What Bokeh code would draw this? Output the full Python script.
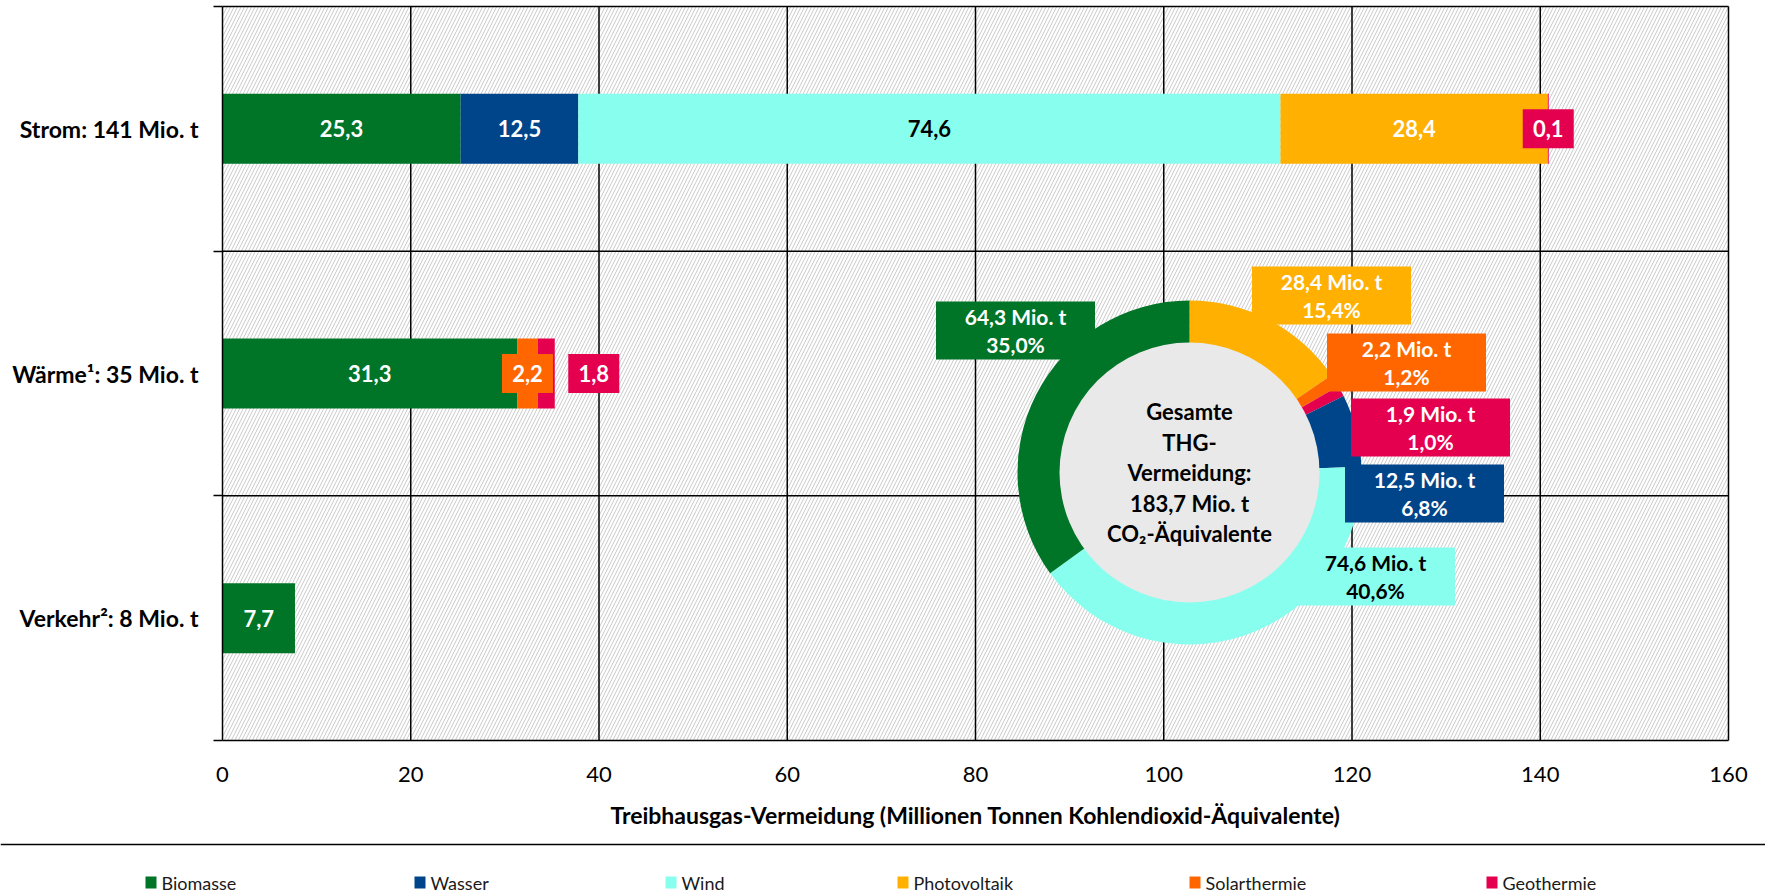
import math
from bokeh.plotting import figure
from bokeh.models import ColumnDataSource, Range1d, FixedTicker
from bokeh.embed import file_html
from bokeh.resources import INLINE
from bokeh.core.properties import value

# ---------------- data ----------------
sectors = ["Strom: 141 Mio. t", "Wärme¹: 35 Mio. t", "Verkehr²: 8 Mio. t"]
sources = ["Biomasse", "Wasser", "Wind", "Photovoltaik", "Solarthermie", "Geothermie"]
biomasse = [25.3, 31.3, 7.7]
wasser = [12.5, 0.0, 0.0]
wind = [74.6, 0.0, 0.0]
photovoltaik = [28.4, 0.0, 0.0]
solarthermie = [0.0, 2.2, 0.0]
geothermie = [0.1, 1.8, 0.0]

donut_order = ["Photovoltaik", "Solarthermie", "Geothermie", "Wasser", "Wind", "Biomasse"]
donut_values = [28.4, 2.2, 1.9, 12.5, 74.6, 64.3]
donut_percent = [15.4, 1.2, 1.0, 6.8, 40.6, 35.0]
center_lines = ["Gesamte", "THG-", "Vermeidung:", "183,7 Mio. t", "CO₂-Äquivalente"]

x_ticks = [0, 20, 40, 60, 80, 100, 120, 140, 160]
x_title = "Treibhausgas-Vermeidung (Millionen Tonnen Kohlendioxid-Äquivalente)"

# ---------------- styles / layout ----------------
colors = {"Biomasse": "#007427", "Wasser": "#004489", "Wind": "#88FFEE",
          "Photovoltaik": "#FFB000", "Solarthermie": "#FF6600", "Geothermie": "#E5004F"}
text_colors = {"Wind": "black"}
FONT = "Lato"
W, H = 1765, 892                       # canvas
PL, PR, PT, PB = 222, 1728, 6, 740     # plot area in canvas px
X_MAX = 160
N = len(sectors)
PX_X = X_MAX / (PR - PL)
PX_Y = N / (PB - PT)
BAR_H = 0.286
outside_labels = {(1, "Geothermie")}   # label placed right of the bar
donut_center_px = (1189, 472)
donut_label_offsets = {                # screen px from donut centre
    "Photovoltaik": (142, -177), "Solarthermie": (217, -110), "Geothermie": (241, -45),
    "Wasser": (235, 21), "Wind": (186, 104), "Biomasse": (-174, -142)}
legend_left_px = [145, 414, 665, 897, 1189, 1486]
legend_y_px = 882
separator_y_px = 844


def de(v):
    return f"{v:.1f}".replace(".", ",")


def dx_(px):
    return (px - PL) * PX_X


def dy_(py):
    return (PB - py) * PX_Y


series = dict(zip(sources, [biomasse, wasser, wind, photovoltaik, solarthermie, geothermie]))
slot = [N - 0.5 - i for i in range(N)]   # first sector on top

p = figure(width=W, height=H, x_range=Range1d(dx_(0), dx_(W)), y_range=Range1d(dy_(H), dy_(0)),
           min_border=0, output_backend="svg", toolbar_location=None,
           outline_line_color=None, background_fill_color="white", border_fill_color="white")
p.xgrid.visible = False
p.ygrid.visible = False

# hatched plot background
p.quad(left=[0], right=[X_MAX], bottom=[0], top=[N], fill_color="white", line_color=None,
       hatch_pattern="/", hatch_color="#c9c9c9", hatch_scale=7, hatch_weight=1.0)

# grid lines (vertical at ticks, horizontal at category boundaries)
vt = [t for t in x_ticks if t > 0]
p.segment(x0=vt, x1=vt, y0=[0] * len(vt), y1=[N] * len(vt), line_color="black", line_width=1.5)
hb = list(range(1, N + 1))
p.segment(x0=[0] * len(hb), x1=[X_MAX] * len(hb), y0=hb, y1=hb, line_color="black",
          line_width=1.5)

# x axis (fixed at y = 0)
xa = p.xaxis[0]
xa.fixed_location = 0
xa.bounds = (0, X_MAX)
xa.ticker = FixedTicker(ticks=x_ticks)
xa.major_tick_out = 0
xa.major_tick_in = 0
xa.minor_tick_line_color = None
xa.axis_line_color = "black"
xa.axis_line_width = 1.5
xa.major_label_text_font = FONT
xa.major_label_text_font_size = "22px"
xa.major_label_text_color = "black"
xa.major_label_standoff = 26
xa.axis_label = x_title
xa.axis_label_text_font = FONT
xa.axis_label_text_font_size = "23px"
xa.axis_label_text_font_style = "bold"
xa.axis_label_text_color = "black"
xa.axis_label_standoff = 16

# y axis (fixed at x = 0): labels at category centres, minor ticks at boundaries
ya = p.yaxis[0]
ya.fixed_location = 0
ya.bounds = (0, N)
ya.ticker = FixedTicker(ticks=slot, minor_ticks=list(range(0, N + 1)))
ya.major_label_overrides = {s: name for s, name in zip(slot, sectors)}
ya.major_tick_out = 0
ya.major_tick_in = 0
ya.minor_tick_out = 9
ya.minor_tick_in = 0
ya.minor_tick_line_color = "black"
ya.minor_tick_line_width = 1.5
ya.axis_line_color = "black"
ya.axis_line_width = 1.5
ya.major_label_standoff = 15
ya.major_label_text_font = FONT
ya.major_label_text_font_size = "23px"
ya.major_label_text_font_style = "bold"
ya.major_label_text_color = "black"

# stacked bars
src = ColumnDataSource(dict(slot=slot, **series))
p.hbar_stack(sources, y="slot", height=BAR_H, fill_color=[colors[s] for s in sources],
             line_color=None, source=src)

# value labels
in_x, in_y, in_t, in_c = [], [], [], []
bx_x, bx_y, bx_t, bx_f = [], [], [], []
for i in range(N):
    start = 0.0
    for s in sources:
        v = series[s][i]
        if v <= 0:
            continue
        mid, end = start + v / 2, start + v
        if v >= 5:
            in_x.append(mid); in_y.append(slot[i]); in_t.append(de(v))
            in_c.append(text_colors.get(s, "white"))
        else:
            x = end + 39 * PX_X if (i, s) in outside_labels else mid
            bx_x.append(x); bx_y.append(slot[i]); bx_t.append(de(v)); bx_f.append(colors[s])
        start = end

p.text(x=in_x, y=in_y, text=in_t, text_color=in_c, text_align="center",
       text_baseline="middle", text_font=value(FONT), text_font_style="bold",
       text_font_size="22px")
p.rect(x=bx_x, y=bx_y, width=51, height=39, width_units="screen", height_units="screen",
       fill_color=bx_f, line_color=None)
p.text(x=bx_x, y=bx_y, text=bx_t, text_color="white", text_align="center",
       text_baseline="middle", text_font=value(FONT), text_font_style="bold",
       text_font_size="22px")

# donut
cx, cy = dx_(donut_center_px[0]), dy_(donut_center_px[1])
total = sum(donut_values)
starts, ends, cum = [], [], 0.0
for v in donut_values:
    starts.append(math.pi / 2 - 2 * math.pi * cum / total)
    cum += v
    ends.append(math.pi / 2 - 2 * math.pi * cum / total)
dsrc = ColumnDataSource(dict(x=[cx] * len(donut_values), y=[cy] * len(donut_values),
                             s=starts, e=ends, c=[colors[n] for n in donut_order]))
p.annular_wedge(x="x", y="y", inner_radius=129, outer_radius=172,
                inner_radius_units="screen", outer_radius_units="screen",
                start_angle="s", end_angle="e", direction="clock",
                fill_color="c", line_color=None, source=dsrc)
p.circle(x=[cx], y=[cy], radius=130, radius_units="screen", fill_color="#e9e9e9",
         line_color=None)
p.text(x=[cx] * len(center_lines), y=[cy] * len(center_lines), text=center_lines,
       y_offset=[(k - 2) * 30.5 for k in range(len(center_lines))],
       text_align="center", text_baseline="middle", text_color="black",
       text_font=value(FONT), text_font_style="bold", text_font_size="22px")

# donut labels
lx, ly, lf, t1, t2, tc = [], [], [], [], [], []
for n, v, pc in zip(donut_order, donut_values, donut_percent):
    ox, oy = donut_label_offsets[n]
    lx.append(cx + ox * PX_X); ly.append(cy - oy * PX_Y); lf.append(colors[n])
    t1.append(f"{de(v)} Mio. t"); t2.append(f"{de(pc)}%")
    tc.append(text_colors.get(n, "white"))
p.rect(x=lx, y=ly, width=159, height=58, width_units="screen", height_units="screen",
       fill_color=lf, line_color=None)
p.text(x=lx, y=ly, text=t1, y_offset=-14, text_color=tc, text_align="center",
       text_baseline="middle", text_font=value(FONT), text_font_style="bold",
       text_font_size="21px")
p.text(x=lx, y=ly, text=t2, y_offset=14, text_color=tc, text_align="center",
       text_baseline="middle", text_font=value(FONT), text_font_style="bold",
       text_font_size="21px")

# separator and legend
p.segment(x0=[dx_(0)], x1=[dx_(W)], y0=[dy_(separator_y_px)], y1=[dy_(separator_y_px)],
          line_color="black", line_width=1.5)
p.rect(x=[dx_(l + 5.5) for l in legend_left_px], y=[dy_(legend_y_px)] * len(sources),
       width=11, height=12, width_units="screen", height_units="screen",
       fill_color=[colors[s] for s in sources], line_color=None)
p.text(x=[dx_(l + 16) for l in legend_left_px], y=[dy_(legend_y_px)] * len(sources),
       text=sources, text_align="left", text_baseline="middle", text_color="#1a1a1a",
       text_font=value(FONT), text_font_size="18px")

open("out.html", "w").write(file_html(p, INLINE))
